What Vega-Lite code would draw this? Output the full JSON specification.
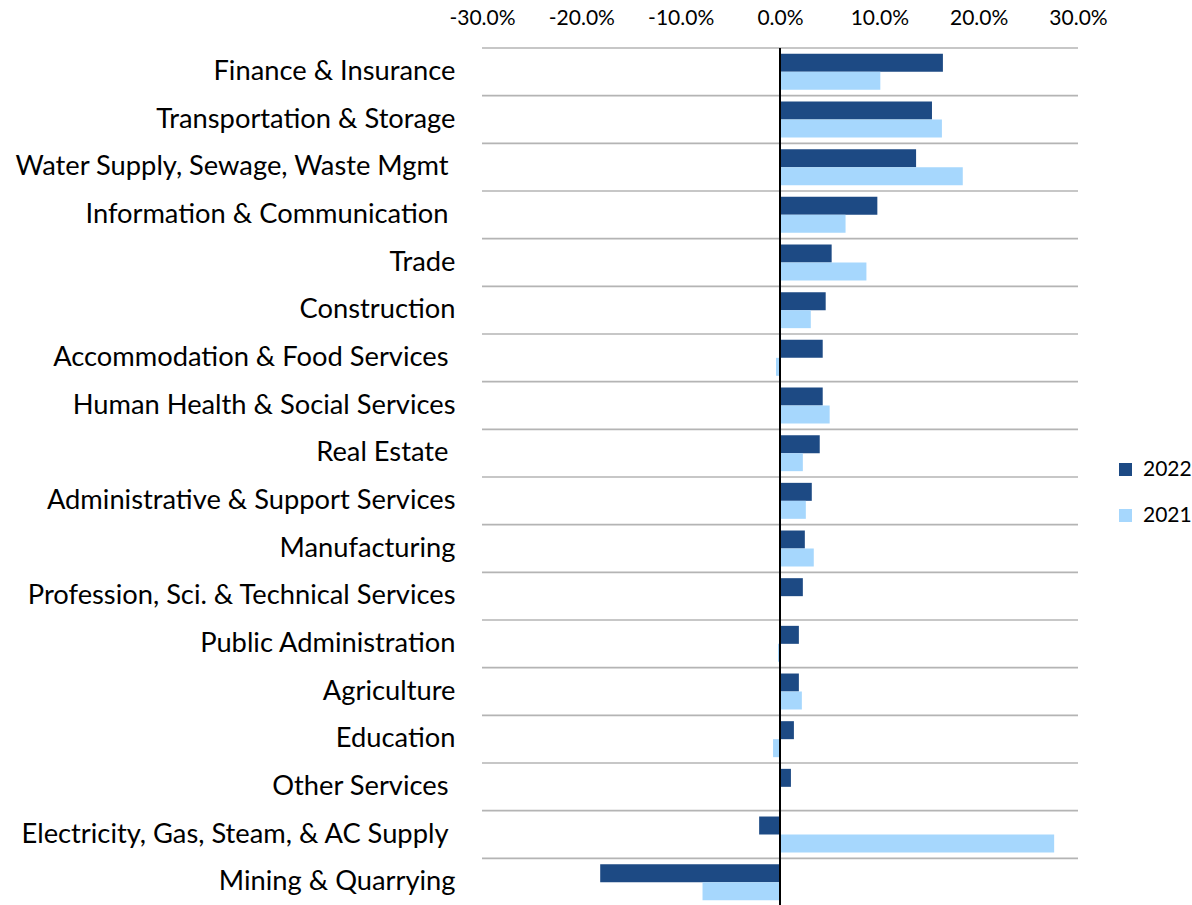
{
  "$schema": "https://vega.github.io/schema/vega-lite/v6.json",
  "autosize": {"type": "none"},
  "padding": {"left": 482, "top": 48, "right": 114, "bottom": 0},
  "width": 596,
  "height": 858,
  "background": "white",
  "config": {
    "view": {"stroke": null},
    "font": "Lato",
    "axisY": {"domain": false, "ticks": false, "grid": false, "labelFont": "Lato", "labelFontSize": 27.3, "labelColor": "#000000", "labelLimit": 0},
    "axisX": {"domain": false, "ticks": false, "tickSize": 0, "grid": false, "labelFont": "Lato", "labelFontSize": 21, "labelColor": "#000000", "labelPadding": 24, "labelBaseline": "alphabetic", "labelFlush": false}
  },
  "data": {
    "values": [
      {"cat": "Finance & Insurance", "year": "2022", "value": 16.4},
      {"cat": "Finance & Insurance", "year": "2021", "value": 10.1},
      {"cat": "Transportation & Storage", "year": "2022", "value": 15.3},
      {"cat": "Transportation & Storage", "year": "2021", "value": 16.3},
      {"cat": "Water Supply, Sewage, Waste Mgmt\u00a0", "year": "2022", "value": 13.7},
      {"cat": "Water Supply, Sewage, Waste Mgmt\u00a0", "year": "2021", "value": 18.4},
      {"cat": "Information & Communication\u00a0", "year": "2022", "value": 9.8},
      {"cat": "Information & Communication\u00a0", "year": "2021", "value": 6.6},
      {"cat": "Trade", "year": "2022", "value": 5.2},
      {"cat": "Trade", "year": "2021", "value": 8.7},
      {"cat": "Construction", "year": "2022", "value": 4.6},
      {"cat": "Construction", "year": "2021", "value": 3.1},
      {"cat": "Accommodation & Food Services\u00a0", "year": "2022", "value": 4.3},
      {"cat": "Accommodation & Food Services\u00a0", "year": "2021", "value": -0.4},
      {"cat": "Human Health & Social Services", "year": "2022", "value": 4.3},
      {"cat": "Human Health & Social Services", "year": "2021", "value": 5.0},
      {"cat": "Real Estate\u00a0", "year": "2022", "value": 4.0},
      {"cat": "Real Estate\u00a0", "year": "2021", "value": 2.3},
      {"cat": "Administrative & Support Services", "year": "2022", "value": 3.2},
      {"cat": "Administrative & Support Services", "year": "2021", "value": 2.6},
      {"cat": "Manufacturing", "year": "2022", "value": 2.5},
      {"cat": "Manufacturing", "year": "2021", "value": 3.4},
      {"cat": "Profession, Sci. & Technical Services", "year": "2022", "value": 2.3},
      {"cat": "Profession, Sci. & Technical Services", "year": "2021", "value": 0.0},
      {"cat": "Public Administration", "year": "2022", "value": 1.9},
      {"cat": "Public Administration", "year": "2021", "value": -0.2},
      {"cat": "Agriculture", "year": "2022", "value": 1.9},
      {"cat": "Agriculture", "year": "2021", "value": 2.2},
      {"cat": "Education", "year": "2022", "value": 1.4},
      {"cat": "Education", "year": "2021", "value": -0.7},
      {"cat": "Other Services\u00a0", "year": "2022", "value": 1.1},
      {"cat": "Other Services\u00a0", "year": "2021", "value": -0.1},
      {"cat": "Electricity, Gas, Steam, & AC Supply\u00a0", "year": "2022", "value": -2.1},
      {"cat": "Electricity, Gas, Steam, & AC Supply\u00a0", "year": "2021", "value": 27.6},
      {"cat": "Mining & Quarrying", "year": "2022", "value": -18.1},
      {"cat": "Mining & Quarrying", "year": "2021", "value": -7.8}
    ]
  },
  "layer": [
    {
      "transform": [{"filter": "datum.year === '2022'"}],
      "mark": {"type": "rule", "color": "#b4b4b4", "strokeWidth": 1.6},
      "encoding": {
        "y": {"field": "cat", "type": "nominal", "sort": null, "bandPosition": 0, "title": null, "scale": {"paddingInner": 0, "paddingOuter": 0},
          "axis": {"labelPadding": {"condition": {"test": "lastindexof(datum.value, '\u00a0') > 0", "value": 34}, "value": 27}}}
      }
    },
    {
      "mark": {"type": "bar"},
      "encoding": {
        "y": {"field": "cat", "type": "nominal", "sort": null, "title": null, "scale": {"paddingInner": 0, "paddingOuter": 0},
          "axis": {"labelPadding": {"condition": {"test": "lastindexof(datum.value, '\u00a0') > 0", "value": 34}, "value": 27}}},
        "yOffset": {"field": "year", "type": "nominal", "sort": ["2022", "2021"], "scale": {"paddingInner": 0, "paddingOuter": 0.325}},
        "x": {
          "field": "value", "type": "quantitative",
          "scale": {"domain": [-30, 30], "nice": false, "zero": false},
          "axis": {"orient": "top", "title": null, "values": [-30, -20, -10, 0, 10, 20, 30], "labelExpr": "replace(format(datum.value, '.1f'), '\u2212', '-') + '%'"}
        },
        "color": {
          "field": "year", "type": "nominal",
          "scale": {"domain": ["2022", "2021"], "range": ["#1D4A84", "#A6D7FD"]},
          "legend": {"title": null, "orient": "none", "legendX": 633, "legendY": 411, "symbolType": "square", "symbolSize": 169, "symbolStrokeWidth": 0, "labelFont": "Lato", "labelFontSize": 21, "labelColor": "#000000", "rowPadding": 24, "padding": 0, "labelOffset": 7}
        }
      }
    },
    {
      "mark": {"type": "rule", "color": "#000000", "strokeWidth": 2},
      "encoding": {
        "x": {"datum": 0, "type": "quantitative", "axis": {"orient": "top", "title": null, "values": [-30, -20, -10, 0, 10, 20, 30], "labelExpr": "replace(format(datum.value, '.1f'), '\u2212', '-') + '%'"}}
      }
    }
  ]
}
